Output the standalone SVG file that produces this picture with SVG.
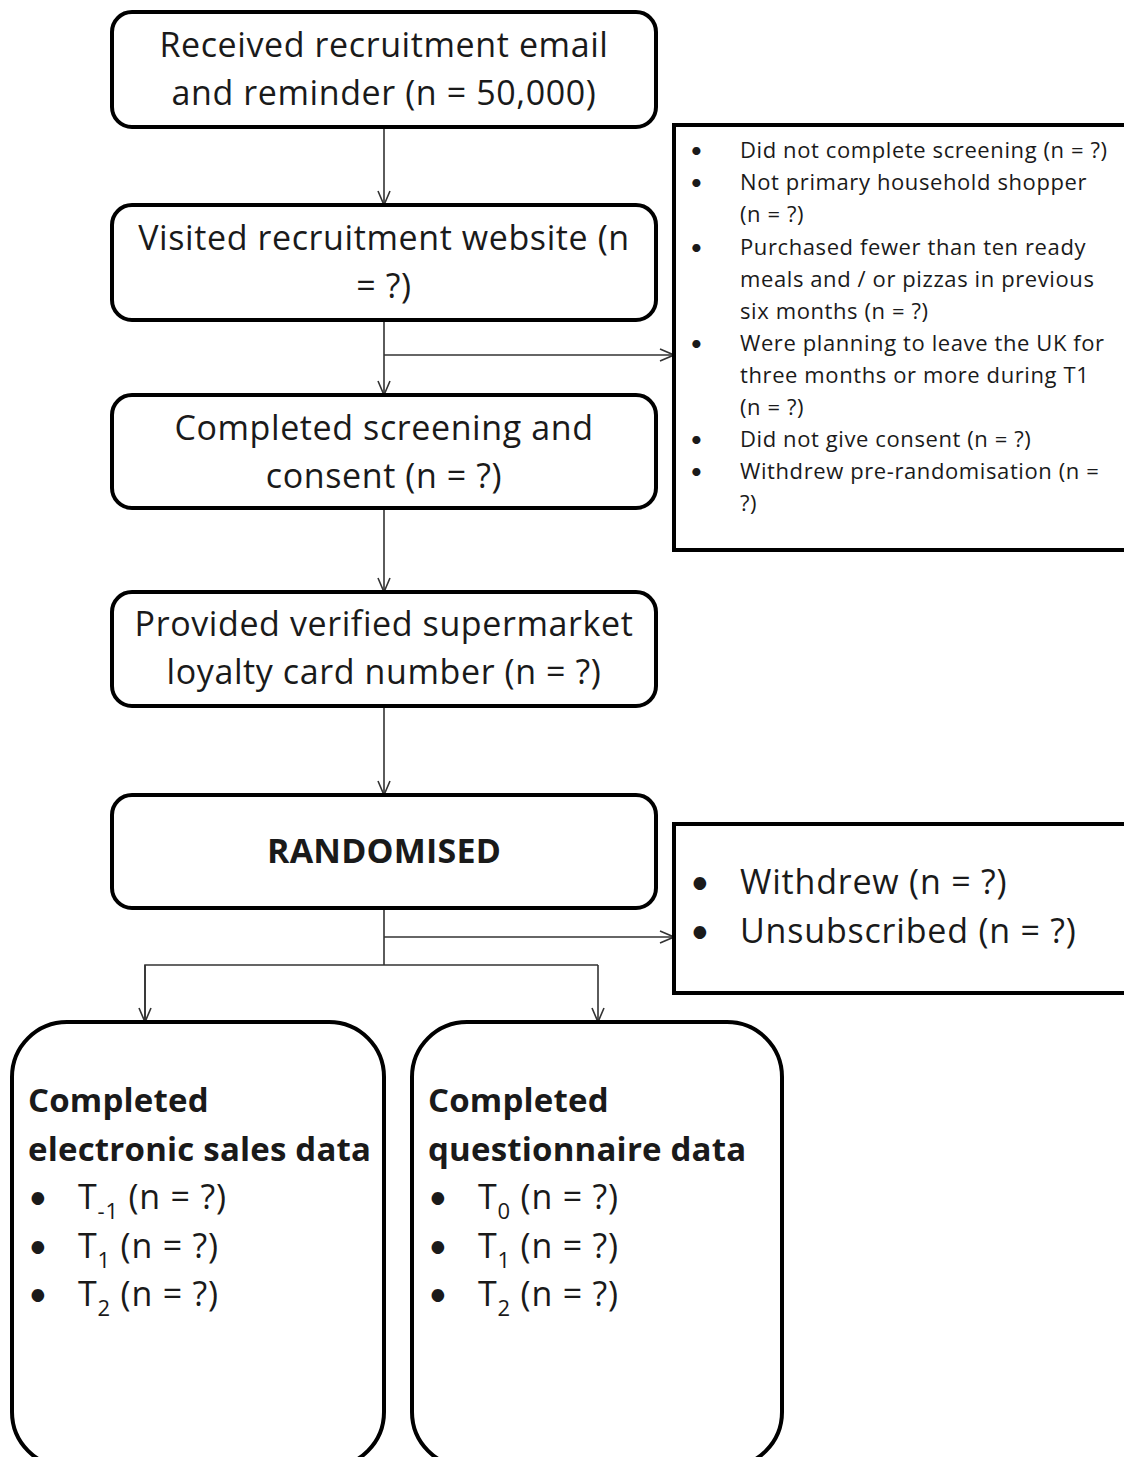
<svg xmlns="http://www.w3.org/2000/svg" width="1124" height="1457" viewBox="0 0 1124 1457">
  <style>
    .box { fill: #fff; stroke: #000; stroke-width: 4; }
    .conn { fill: none; stroke: #333; stroke-width: 1.6; }
    .t { font-family: "Open Sans", Lato, "Liberation Sans", sans-serif; fill: #1a1a1a; }
    .main { font-size: 34px; text-anchor: middle; letter-spacing: 0.6px; }
    .small { font-size: 22px; letter-spacing: 0.6px; }
    .big { font-size: 34px; letter-spacing: 0.8px; }
    .bold { font-weight: bold; letter-spacing: 0.2px; }
    .dot { font-family: Lato, "Liberation Sans", sans-serif; }
  </style>
  <defs>
    <marker id="arr" viewBox="0 0 16 14" refX="15" refY="7" markerWidth="16" markerHeight="14" markerUnits="userSpaceOnUse" orient="auto">
      <path d="M1,1 L15,7 L1,13" fill="none" stroke="#333" stroke-width="1.6"/>
    </marker>
  </defs>

  <g id="connectors">
    <line class="conn" x1="384" y1="127" x2="384" y2="205" marker-end="url(#arr)"/>
    <line class="conn" x1="384" y1="320" x2="384" y2="395" marker-end="url(#arr)"/>
    <line class="conn" x1="384" y1="355" x2="674" y2="355" marker-end="url(#arr)"/>
    <line class="conn" x1="384" y1="508" x2="384" y2="592" marker-end="url(#arr)"/>
    <line class="conn" x1="384" y1="706" x2="384" y2="795" marker-end="url(#arr)"/>
    <line class="conn" x1="384" y1="908" x2="384" y2="965"/>
    <line class="conn" x1="384" y1="937" x2="674" y2="937" marker-end="url(#arr)"/>
    <polyline class="conn" points="145,1022 145,965 598,965"/>
    <line class="conn" x1="145" y1="965" x2="145" y2="1022" marker-end="url(#arr)"/>
    <line class="conn" x1="598" y1="965" x2="598" y2="1022" marker-end="url(#arr)"/>
  </g>

  <g id="received">
    <rect class="box" x="112" y="12" width="544" height="115" rx="20"/>
    <text class="t main" x="384" y="57">Received recruitment email</text>
    <text class="t main" x="384" y="105">and reminder (n = 50,000)</text>
  </g>

  <g id="visited">
    <rect class="box" x="112" y="205" width="544" height="115" rx="20"/>
    <text class="t main" x="384" y="250">Visited recruitment website (n</text>
    <text class="t main" x="384" y="298">= ?)</text>
  </g>

  <g id="screening">
    <rect class="box" x="112" y="395" width="544" height="113" rx="20"/>
    <text class="t main" x="384" y="440">Completed screening and</text>
    <text class="t main" x="384" y="488">consent (n = ?)</text>
  </g>

  <g id="loyalty">
    <rect class="box" x="112" y="592" width="544" height="114" rx="20"/>
    <text class="t main" x="384" y="636">Provided verified supermarket</text>
    <text class="t main" x="384" y="684">loyalty card number (n = ?)</text>
  </g>

  <g id="randomised">
    <rect class="box" x="112" y="795" width="544" height="113" rx="20"/>
    <text class="t main bold" x="384" y="863" font-size="33">RANDOMISED</text>
  </g>

  <g id="excluded">
    <rect class="box" x="674" y="125" width="460" height="425"/>
    <g class="t small">
      <text class="dot" x="690" y="158">•</text><text x="740" y="158">Did not complete screening (n = ?)</text>
      <text class="dot" x="690" y="190">•</text><text x="740" y="190">Not primary household shopper</text>
      <text x="740" y="222">(n = ?)</text>
      <text class="dot" x="690" y="255">•</text><text x="740" y="255">Purchased fewer than ten ready</text>
      <text x="740" y="287">meals and / or pizzas in previous</text>
      <text x="740" y="319">six months  (n = ?)</text>
      <text class="dot" x="690" y="351">•</text><text x="740" y="351">Were planning to leave the UK for</text>
      <text x="740" y="383">three months or more during T1</text>
      <text x="740" y="415">(n = ?)</text>
      <text class="dot" x="690" y="447">•</text><text x="740" y="447">Did not give consent  (n = ?)</text>
      <text class="dot" x="690" y="479">•</text><text x="740" y="479">Withdrew pre-randomisation (n =</text>
      <text x="740" y="511">?)</text>
    </g>
  </g>

  <g id="withdrawn">
    <rect class="box" x="674" y="824" width="460" height="169"/>
    <g class="t big">
      <text class="dot" x="690" y="894">•</text><text x="740" y="894">Withdrew (n = ?)</text>
      <text class="dot" x="690" y="943">•</text><text x="740" y="943">Unsubscribed (n = ?)</text>
    </g>
  </g>

  <g id="sales">
    <rect class="box" x="12" y="1022" width="372" height="445" rx="55"/>
    <g class="t big">
      <text class="bold" x="28" y="1112" font-size="33">Completed</text>
      <text class="bold" x="28" y="1161" font-size="33">electronic sales data</text>
      <text class="dot" x="28" y="1209">•</text><text x="78" y="1209">T<tspan font-size="22" dy="10">-1</tspan><tspan dy="-10"> (n = ?)</tspan></text>
      <text class="dot" x="28" y="1258">•</text><text x="78" y="1258">T<tspan font-size="22" dy="10">1</tspan><tspan dy="-10"> (n = ?)</tspan></text>
      <text class="dot" x="28" y="1306">•</text><text x="78" y="1306">T<tspan font-size="22" dy="10">2</tspan><tspan dy="-10"> (n = ?)</tspan></text>
    </g>
  </g>

  <g id="questionnaire">
    <rect class="box" x="412" y="1022" width="370" height="445" rx="55"/>
    <g class="t big">
      <text class="bold" x="428" y="1112" font-size="33">Completed</text>
      <text class="bold" x="428" y="1161" font-size="33">questionnaire data</text>
      <text class="dot" x="428" y="1209">•</text><text x="478" y="1209">T<tspan font-size="22" dy="10">0</tspan><tspan dy="-10"> (n = ?)</tspan></text>
      <text class="dot" x="428" y="1258">•</text><text x="478" y="1258">T<tspan font-size="22" dy="10">1</tspan><tspan dy="-10"> (n = ?)</tspan></text>
      <text class="dot" x="428" y="1306">•</text><text x="478" y="1306">T<tspan font-size="22" dy="10">2</tspan><tspan dy="-10"> (n = ?)</tspan></text>
    </g>
  </g>
</svg>
